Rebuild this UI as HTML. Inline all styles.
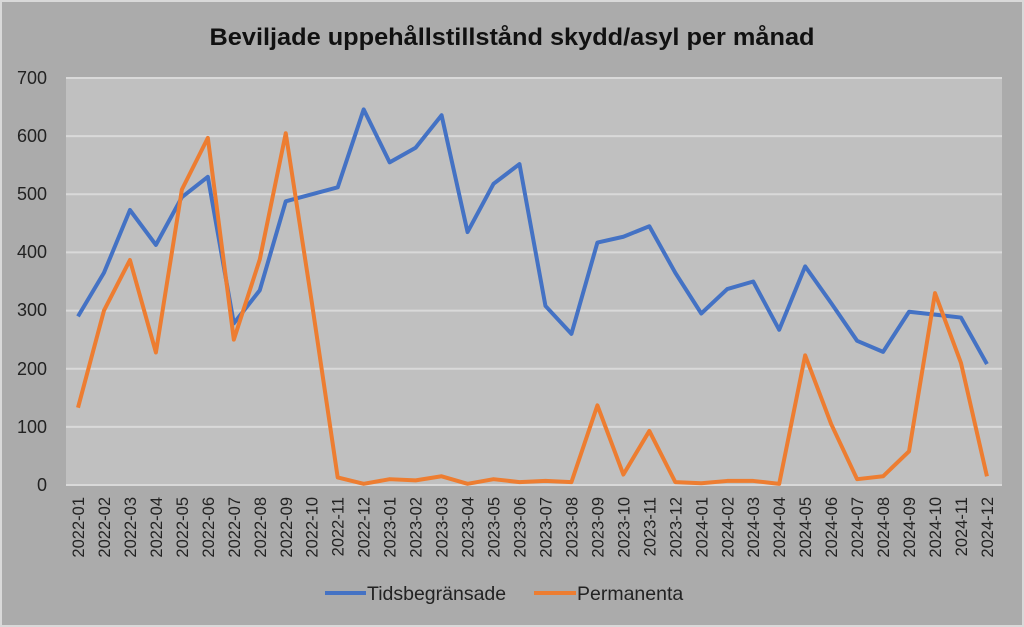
<!DOCTYPE html>
<html><head><meta charset="utf-8"><style>
html,body{margin:0;padding:0;background:#ababab;}
svg{display:block;font-family:"Liberation Sans",Arial,sans-serif;}
</style></head><body>
<svg width="1024" height="627" viewBox="0 0 1024 627" xmlns="http://www.w3.org/2000/svg">
<rect x="0" y="0" width="1024" height="627" fill="#d9d9d9"/>
<rect x="2" y="2" width="1020" height="623" fill="#ababab"/>
<text x="512" y="45" text-anchor="middle" font-size="24" font-weight="bold" fill="#111" textLength="605" lengthAdjust="spacingAndGlyphs">Beviljade uppehållstillstånd skydd/asyl per månad</text>
<rect x="66" y="78" width="936" height="407" fill="#c0c0c0"/>
<g stroke="#d9d9d9" stroke-width="2">
<line x1="66" x2="1002" y1="78" y2="78"/>
<line x1="66" x2="1002" y1="136.1" y2="136.1"/>
<line x1="66" x2="1002" y1="194.3" y2="194.3"/>
<line x1="66" x2="1002" y1="252.4" y2="252.4"/>
<line x1="66" x2="1002" y1="310.6" y2="310.6"/>
<line x1="66" x2="1002" y1="368.7" y2="368.7"/>
<line x1="66" x2="1002" y1="426.9" y2="426.9"/>
<line x1="66" x2="1002" y1="485" y2="485"/>
</g>
<g font-size="18" fill="#222" text-anchor="end">
<text x="47" y="84">700</text><text x="47" y="142">600</text><text x="47" y="200">500</text>
<text x="47" y="258">400</text><text x="47" y="316">300</text><text x="47" y="375">200</text>
<text x="47" y="433">100</text><text x="47" y="491">0</text>
</g>
<g transform="translate(78,485) scale(25.97,-0.5814)" fill="none" stroke-width="4" stroke-linejoin="round">
<polyline vector-effect="non-scaling-stroke" stroke="#4472c4" points="0,290 1,365 2,473 3,413 4,495 5,530 6,278 7,335 8,488 9,500 10,512 11,646 12,555 13,580 14,636 15,435 16,518 17,552 18,308 19,260 20,417 21,427 22,445 23,365 24,295 25,337 26,350 27,267 28,376 29,313 30,248 31,229 32,298 33,293 34,288 35,208"/>
<polyline vector-effect="non-scaling-stroke" stroke="#ed7d31" points="0,133 1,300 2,387 3,228 4,508 5,597 6,250 7,388 8,605 9,315 10,13 11,2 12,10 13,8 14,15 15,2 16,10 17,5 18,7 19,5 20,137 21,18 22,93 23,5 24,3 25,7 26,7 27,2 28,223 29,105 30,10 31,15 32,58 33,330 34,210 35,15"/>
</g>
<g font-size="16.5" fill="#222" text-anchor="end">
<text transform="translate(84,497) rotate(-90)">2022-01</text>
<text transform="translate(110,497) rotate(-90)">2022-02</text>
<text transform="translate(136,497) rotate(-90)">2022-03</text>
<text transform="translate(162,497) rotate(-90)">2022-04</text>
<text transform="translate(188,497) rotate(-90)">2022-05</text>
<text transform="translate(214,497) rotate(-90)">2022-06</text>
<text transform="translate(239.8,497) rotate(-90)">2022-07</text>
<text transform="translate(265.8,497) rotate(-90)">2022-08</text>
<text transform="translate(291.8,497) rotate(-90)">2022-09</text>
<text transform="translate(317.7,497) rotate(-90)">2022-10</text>
<text transform="translate(343.7,497) rotate(-90)">2022-11</text>
<text transform="translate(369.7,497) rotate(-90)">2022-12</text>
<text transform="translate(395.6,497) rotate(-90)">2023-01</text>
<text transform="translate(421.6,497) rotate(-90)">2023-02</text>
<text transform="translate(447.6,497) rotate(-90)">2023-03</text>
<text transform="translate(473.6,497) rotate(-90)">2023-04</text>
<text transform="translate(499.5,497) rotate(-90)">2023-05</text>
<text transform="translate(525.5,497) rotate(-90)">2023-06</text>
<text transform="translate(551.5,497) rotate(-90)">2023-07</text>
<text transform="translate(577.4,497) rotate(-90)">2023-08</text>
<text transform="translate(603.4,497) rotate(-90)">2023-09</text>
<text transform="translate(629.4,497) rotate(-90)">2023-10</text>
<text transform="translate(655.3,497) rotate(-90)">2023-11</text>
<text transform="translate(681.3,497) rotate(-90)">2023-12</text>
<text transform="translate(707.3,497) rotate(-90)">2024-01</text>
<text transform="translate(733.3,497) rotate(-90)">2024-02</text>
<text transform="translate(759.2,497) rotate(-90)">2024-03</text>
<text transform="translate(785.2,497) rotate(-90)">2024-04</text>
<text transform="translate(811.2,497) rotate(-90)">2024-05</text>
<text transform="translate(837.1,497) rotate(-90)">2024-06</text>
<text transform="translate(863.1,497) rotate(-90)">2024-07</text>
<text transform="translate(889.1,497) rotate(-90)">2024-08</text>
<text transform="translate(915,497) rotate(-90)">2024-09</text>
<text transform="translate(941,497) rotate(-90)">2024-10</text>
<text transform="translate(967,497) rotate(-90)">2024-11</text>
<text transform="translate(993,497) rotate(-90)">2024-12</text>
</g>
<line x1="325" x2="366" y1="593" y2="593" stroke="#4472c4" stroke-width="4"/>
<text x="367" y="600" font-size="19.5" fill="#222">Tidsbegränsade</text>
<line x1="534" x2="576" y1="593" y2="593" stroke="#ed7d31" stroke-width="4"/>
<text x="577" y="600" font-size="19.5" fill="#222">Permanenta</text>
</svg>
</body></html>
